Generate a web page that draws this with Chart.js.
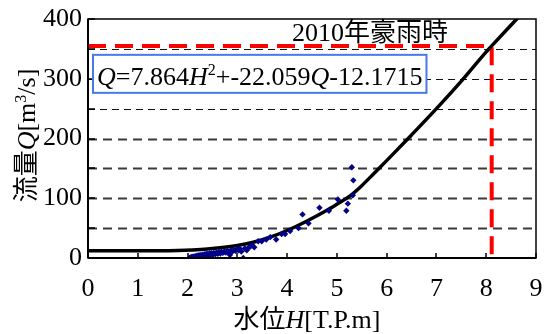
<!DOCTYPE html>
<html>
<head>
<meta charset="utf-8">
<script src="https://cdn.jsdelivr.net/npm/chart.js@4/dist/chart.umd.min.js"></script>
<style>
  html, body { margin: 0; padding: 0; background: #fff; }
  #wrap { width: 549px; height: 334px; }
</style>
</head>
<body>
<div id="wrap"><canvas id="c" width="549" height="334"></canvas></div>
<script>
// Observed water level H [T.P.m] and discharge Q [m3/s]
const obsH = [2.04, 2.06, 2.08, 2.09, 2.11, 2.13, 2.14, 2.16, 2.18, 2.19, 2.21, 2.23, 2.25, 2.27, 2.29, 2.31, 2.33,
  2.35, 2.37, 2.39, 2.42, 2.44, 2.46, 2.48, 2.51, 2.53, 2.56, 2.58, 2.61, 2.63, 2.66, 2.68, 2.71, 2.74,
  2.77, 2.80, 2.83, 2.85, 2.87, 2.90, 2.93, 2.96, 2.99, 3.02, 3.05, 3.08, 3.12, 3.15, 3.19, 3.22, 3.26,
  3.29, 3.34, 3.42, 3.49, 3.58, 3.66, 3.78, 3.89, 3.96, 4.06, 4.23, 4.31, 4.43, 4.65, 4.84, 5.02, 5.19,
  5.22, 5.32, 5.33, 5.30];
const obsQ = [0, 1, 0, 2, 0.5, 2.5, 1, 3, 1.5, 4, 2, 4.5, 2.5, 5, 3, 5.5, 3.5,
  6.5, 4, 7, 4.5, 7.5, 5, 8, 5.5, 8.5, 6.5, 9, 7, 10, 7.5, 10.5, 8.5, 11,
  9, 12, 10, 5, 12.5, 11, 13.5, 12, 14.5, 13, 15.5, 11, 0, 16, 13, 17, 19,
  22, 18, 28, 28, 31, 35, 31, 40, 40, 45, 50, 73, 58, 84, 79, 98, 79,
  91, 105, 130, 152];

// H-Q rating curve
const curveH = [0, 1, 1.5, 1.8, 2.1, 2.4, 2.7, 3.0, 3.3, 3.6, 4.0, 4.4, 4.8, 5.0, 5.25, 5.5, 5.75, 6.0, 6.5, 7.0, 7.5, 8.0, 8.11, 8.5, 8.9];
const curveQ = [12.2, 12.2, 12.3, 12.6, 13.5, 15, 17.5, 21, 26, 33, 46, 62, 80, 90, 103, 121, 142, 163, 206, 250, 296, 345, 355, 390, 425];

// 2010 heavy rain event
const floodH = [0, 8.11, 8.11];
const floodQ = [355, 355, 0];

const xTickValues = [0, 1, 2, 3, 4, 5, 6, 7, 8, 9];
const yTickValues = [0, 50, 100, 150, 200, 250, 300, 350, 400];

const eventLabel = '2010年豪雨時';
const equationParts = [['Q', 'i'], ['=7.864', 'n'], ['H', 'i'], ['2', 's'], ['+-22.059', 'n'], ['Q', 'i'], ['-12.1715', 'n']];
const yTitleParts = [['流量', 'n'], ['Q', 'i'], ['[m', 'n'], ['3', 's'], ['/s]', 'n']];
const xTitleParts = [['水位', 'n'], ['H', 'i'], ['[T.P.m]', 'n']];

const FAMILY = "'Liberation Serif', 'Noto Sans CJK JP', serif";
const FS = 26;

function partFont(kind) {
  if (kind === 'i') return 'italic ' + FS + 'px ' + FAMILY;
  if (kind === 's') return Math.round(FS * 0.62) + 'px ' + FAMILY;
  return FS + 'px ' + FAMILY;
}
function richWidth(ctx, parts) {
  let w = 0;
  for (const [t, k] of parts) { ctx.font = partFont(k); w += ctx.measureText(t).width; }
  return w;
}
function drawRich(ctx, parts, x, y) {
  ctx.textBaseline = 'alphabetic';
  ctx.textAlign = 'left';
  let cx = x;
  for (const [t, k] of parts) {
    ctx.font = partFont(k);
    const dy = k === 's' ? -FS * 0.36 : 0;
    ctx.fillText(t, cx, y + dy);
    cx += ctx.measureText(t).width;
  }
  return cx;
}

const decorations = {
  id: 'decorations',
  beforeDatasetsDraw(chart) {
    const { ctx, chartArea: a, scales: { y } } = chart;
    ctx.save();
    for (const v of yTickValues) {
      if (v === 0 || v === 400) continue;
      const py = Math.round(y.getPixelForValue(v)) + 0.5;
      const light = v >= 250;
      ctx.strokeStyle = light ? '#111' : '#3a3a3a';
      ctx.lineWidth = light ? 1 : 2;
      ctx.setLineDash(light ? [7, 5] : [9, 6]);
      ctx.beginPath();
      ctx.moveTo(a.left, py);
      ctx.lineTo(a.right, py);
      ctx.stroke();
    }
    ctx.restore();
  },
  afterDatasetsDraw(chart) {
    const { ctx, chartArea: a, scales: { x, y } } = chart;
    ctx.save();
    // frame
    ctx.setLineDash([]);
    ctx.strokeStyle = '#000';
    ctx.lineWidth = 1.5;
    ctx.strokeRect(a.left, a.top, a.right - a.left, a.bottom - a.top);
    ctx.lineWidth = 2;
    ctx.beginPath();
    ctx.moveTo(a.left, a.bottom); ctx.lineTo(a.right, a.bottom);
    ctx.moveTo(a.left, a.top); ctx.lineTo(a.left, a.bottom);
    ctx.stroke();
    // inward tick marks
    ctx.lineWidth = 1.5;
    ctx.beginPath();
    for (const v of xTickValues) {
      const px = Math.round(x.getPixelForValue(v));
      ctx.moveTo(px, a.bottom); ctx.lineTo(px, a.bottom - 5);
    }
    for (const v of yTickValues) {
      const py = Math.round(y.getPixelForValue(v));
      ctx.moveTo(a.left, py); ctx.lineTo(a.left + 7, py);
    }
    ctx.stroke();

    // equation box
    const ew = richWidth(ctx, equationParts);
    const bx = a.left + 5, by = y.getPixelForValue(335) - 3;
    const bw = ew + 8, bh = 38;
    ctx.fillStyle = '#fff';
    ctx.fillRect(bx, by, bw, bh);
    ctx.strokeStyle = '#4a78e6';
    ctx.lineWidth = 2;
    ctx.strokeRect(bx, by, bw, bh);
    ctx.fillStyle = '#000';
    drawRich(ctx, equationParts, bx + 4, by + 30);

    // event label
    ctx.font = FS + 'px ' + FAMILY;
    ctx.textAlign = 'left';
    ctx.textBaseline = 'alphabetic';
    ctx.fillText(eventLabel, x.getPixelForValue(4.1), y.getPixelForValue(355) - 5);
    ctx.restore();
  },
  afterDraw(chart) {
    const { ctx, chartArea: a } = chart;
    ctx.save();
    ctx.fillStyle = '#000';
    // x-axis title
    const xw = richWidth(ctx, xTitleParts);
    drawRich(ctx, xTitleParts, (a.left + a.right) / 2 - 5 - xw / 2, 328);
    // y-axis title
    const yw = richWidth(ctx, yTitleParts);
    ctx.translate(35, (a.top + a.bottom) / 2 - 3);
    ctx.rotate(-Math.PI / 2);
    drawRich(ctx, yTitleParts, -yw / 2, 0);
    ctx.restore();
  }
};

Chart.defaults.font.family = FAMILY;
Chart.defaults.font.size = FS;
Chart.defaults.color = '#000';

const tickFont = { family: FAMILY, size: FS, style: 'normal' };

new Chart(document.getElementById('c'), {
  type: 'scatter',
  data: {
    datasets: [
      {
        label: 'observed',
        data: obsH.map((h, i) => ({ x: h, y: obsQ[i] })),
        pointStyle: 'rectRot',
        pointRadius: 3.2,
        backgroundColor: '#00008b',
        borderColor: '#00008b',
        borderWidth: 0,
        order: 0
      },
      {
        label: 'H-Q',
        type: 'line',
        data: curveH.map((h, i) => ({ x: h, y: curveQ[i] })),
        borderColor: '#000',
        borderWidth: 3.5,
        pointRadius: 0,
        cubicInterpolationMode: 'monotone',
        fill: false,
        order: 1
      },
      {
        label: '2010',
        type: 'line',
        data: floodH.map((h, i) => ({ x: h, y: floodQ[i] })),
        borderColor: '#ff0000',
        borderWidth: 4,
        borderDash: [18, 9],
        pointRadius: 0,
        tension: 0,
        fill: false,
        order: 2
      }
    ]
  },
  options: {
    responsive: false,
    animation: false,
    devicePixelRatio: 1,
    layout: { padding: { top: 19, right: 13, left: 0, bottom: 0 } },
    plugins: { legend: { display: false }, tooltip: { enabled: false } },
    scales: {
      x: {
        type: 'linear', min: 0, max: 9,
        grid: { display: false, drawTicks: false },
        border: { display: false },
        ticks: {
          stepSize: 1, padding: 16, maxRotation: 0, font: tickFont,
          callback: v => xTickValues.includes(v) ? String(v) : ''
        },
        afterFit: s => { s.height = 76; s.paddingRight = 0; s.paddingLeft = 0; }
      },
      y: {
        type: 'linear', min: 0, max: 400,
        grid: { display: false, drawTicks: false },
        border: { display: false },
        ticks: {
          stepSize: 50, padding: 6, font: tickFont,
          callback: v => yTickValues.includes(v) ? String(v) : ''
        },
        afterFit: s => { s.width = 88; s.paddingTop = 0; s.paddingBottom = 0; }
      }
    }
  },
  plugins: [decorations]
});
</script>
</body>
</html>
